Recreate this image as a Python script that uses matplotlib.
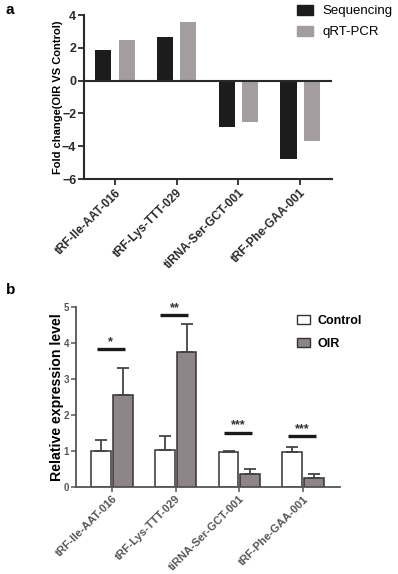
import numpy as np
import matplotlib
matplotlib.use("Agg")
from matplotlib import pyplot as plt
from matplotlib.patches import Patch

plt.rcParams['font.family'] = ['Liberation Sans', 'DejaVu Sans']

# Panel a: fold change
names = ['tRF-Ile-AAT-016', 'tRF-Lys-TTT-029', 'tiRNA-Ser-GCT-001', 'tRF-Phe-GAA-001']
sequencing = [1.85, 2.65, -2.85, -4.8]
qrt_pcr = [2.5, 3.6, -2.55, -3.7]

# Panel b: relative expression
control = [1.0, 1.03, 0.985, 0.985]
control_err = [0.30, 0.39, 0.025, 0.135]
oir = [2.56, 3.76, 0.37, 0.25]
oir_err = [0.74, 0.77, 0.13, 0.10]
sig_y = [3.83, 4.77, 1.50, 1.41]
sig_txt = ['*', '**', '***', '***']

W, H = 398, 574
fig = plt.figure(figsize=(W / 100, H / 100), dpi=100)

dark = '#2a2a2a'
x = np.arange(len(names))

# ---------- panel a ----------
ax1 = fig.add_axes([84 / W, 1 - 179 / H, 248 / W, 164 / H])
ax1.bar(x - 0.185, sequencing, width=0.26, color='#1c1c1c')
ax1.bar(x + 0.19, qrt_pcr, width=0.26, color='#a39d9f')
ax1.axhline(0, color=dark, lw=1.5)
ax1.set_xlim(-0.5, 3.52)
ax1.set_ylim(-6, 4)
ax1.set_yticks([-6, -4, -2, 0, 2, 4])
ax1.set_xticks(x)
ax1.set_xticklabels(names, rotation=45, ha='right', rotation_mode='anchor',
                    fontsize=8.5, fontweight='bold')
ax1.set_ylabel('Fold change(OIR VS Control)', fontsize=8, fontweight='bold', labelpad=-1)
for lab in ax1.get_yticklabels():
    lab.set_fontweight('bold')
    lab.set_fontsize(9)
ax1.spines['top'].set_visible(False)
ax1.spines['right'].set_visible(False)
for s in ['left', 'bottom']:
    ax1.spines[s].set_color(dark)
    ax1.spines[s].set_linewidth(1.5)
ax1.tick_params(colors=dark, width=1.3, length=4, pad=1.5)
ax1.legend(handles=[Patch(color='#1c1c1c', label='Sequencing'),
                    Patch(color='#a39d9f', label='qRT-PCR')],
           loc='upper left', bbox_to_anchor=(297 / W, 1 - 5 / H),
           bbox_transform=fig.transFigure, frameon=False, fontsize=9.5,
           borderpad=0, borderaxespad=0, handlelength=1.25, handleheight=0.75,
           handletextpad=0.7, labelspacing=0.65)
fig.text(6 / W, 1 - 10 / H, 'a', fontsize=11, fontweight='bold', va='center')

# ---------- panel b ----------
ax2 = fig.add_axes([76 / W, 1 - 487 / H, 264 / W, 180 / H])
ekw = dict(ecolor='#444444', capsize=4, elinewidth=1.3, capthick=1.3)
ax2.bar(x - 0.17, control, width=0.31, color='white', edgecolor='#333333', linewidth=1.1,
        yerr=[np.zeros(4), control_err], error_kw=ekw)
ax2.bar(x + 0.17, oir, width=0.31, color='#8e8588', edgecolor='#333333', linewidth=1.1,
        yerr=[np.zeros(4), oir_err], error_kw=ekw)
for i in range(len(names)):
    ax2.plot([x[i] - 0.24, x[i] + 0.2], [sig_y[i], sig_y[i]], color='#1a1a1a', lw=2.4,
             solid_capstyle='butt')
    ax2.text(x[i] - 0.02, sig_y[i] + 0.04, sig_txt[i], ha='center', va='bottom',
             fontsize=9, fontweight='bold', color='#333333')
ax2.set_xlim(-0.565, 3.58)
ax2.set_ylim(0, 5)
ax2.set_yticks([0, 1, 2, 3, 4, 5])
ax2.set_xticks(x)
ax2.set_xticklabels(names, rotation=45, ha='right', rotation_mode='anchor',
                    fontsize=8, fontweight='bold')
ax2.set_ylabel('Relative expression level', fontsize=10.2, fontweight='bold', labelpad=0)
for lab in ax2.get_yticklabels():
    lab.set_fontweight('bold')
    lab.set_fontsize(7)
ax2.spines['top'].set_visible(False)
ax2.spines['right'].set_visible(False)
for s in ['left', 'bottom']:
    ax2.spines[s].set_color('#555555')
    ax2.spines[s].set_linewidth(1.3)
ax2.tick_params(colors='#555555', width=1.1, length=3.5, pad=1.5)
ax2.legend(handles=[Patch(facecolor='white', edgecolor='#333333', label='Control'),
                    Patch(facecolor='#8e8588', edgecolor='#333333', label='OIR')],
           loc='upper left', bbox_to_anchor=(297 / W, 1 - 315 / H),
           bbox_transform=fig.transFigure, frameon=False,
           prop={'size': 9, 'weight': 'bold'},
           borderpad=0, borderaxespad=0, handlelength=1.0, handleheight=0.75,
           handletextpad=0.6, labelspacing=0.85)
fig.text(6 / W, 1 - 290 / H, 'b', fontsize=11, fontweight='bold', va='center')

fig.savefig('out.png', dpi=100)
